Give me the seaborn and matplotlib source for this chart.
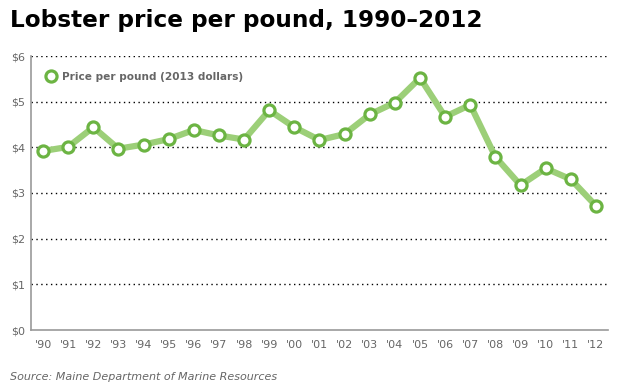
import matplotlib
matplotlib.use("Agg")
import matplotlib.pyplot as plt
import seaborn as sns
import pandas as pd

years = list(range(1990, 2013))
prices = [3.92, 4.01, 4.44, 3.97, 4.06, 4.18, 4.38, 4.26, 4.17, 4.81, 4.44, 4.16,
          4.29, 4.72, 4.98, 5.52, 4.67, 4.93, 3.79, 3.17, 3.54, 3.30, 2.72]
year_labels = ["'" + str(y)[2:] for y in years]
y_ticks = [0, 1, 2, 3, 4, 5, 6]
y_labels = ["$" + str(v) for v in y_ticks]
title = "Lobster price per pound, 1990\u20132012"
series_name = "Price per pound (2013 dollars)"
source = "Source: Maine Department of Marine Resources"

sns.set_theme(style="white")
plt.rcParams['font.family'] = ['DejaVu Sans']

df = pd.DataFrame({"year": years, "price": prices})

fig = plt.figure(figsize=(6.24, 3.9), dpi=100)
ax = fig.add_axes([31/624, 1 - 330/390, (608 - 31)/624, (330 - 56)/390])

line_c = "#9ccf78"
edge_c = "#6cb443"
grey = "#666666"

sns.lineplot(data=df, x="year", y="price", ax=ax, color=line_c, linewidth=4.5,
             marker="o", markersize=8, markerfacecolor="white",
             markeredgecolor=edge_c, markeredgewidth=2.3, label=series_name,
             legend=False)

ax.set_xlim(years[0] - 0.48, years[-1] + 0.48)
ax.set_ylim(0, 6)
ax.set_yticks(y_ticks)
ax.set_yticklabels(y_labels)
ax.set_xticks(years)
ax.set_xticklabels(year_labels)
ax.tick_params(axis="both", length=0, labelsize=8, colors=grey, pad=4)
ax.tick_params(axis="x", pad=7)
ax.set_xlabel("")
ax.set_ylabel("")

for v in y_ticks[1:]:
    ax.axhline(v, color="black", linestyle=(0, (1, 2.5)), linewidth=1, zorder=0)

for s in ["top", "right"]:
    ax.spines[s].set_visible(False)
for s in ["left", "bottom"]:
    ax.spines[s].set_visible(True)
    ax.spines[s].set_color("#999999")
    ax.spines[s].set_linewidth(1.2)

leg = ax.legend(loc="upper left", bbox_to_anchor=(0.008, 0.98), frameon=False,
                handlelength=0.9, handletextpad=0.6, borderaxespad=0.6,
                prop={"weight": "bold", "size": 7.6})
for t in leg.get_texts():
    t.set_color(grey)
for h in leg.legend_handles:
    h.set_linestyle("none")

fig.text(10/624, 1 - 20/390, title, fontsize=16.7, fontweight="bold", color="black",
         va="center", ha="left")
fig.text(10/624, 1 - 377/390, source, fontsize=8, style="italic", color=grey,
         va="center", ha="left")

fig.savefig("out.png", dpi=100, facecolor="white")
